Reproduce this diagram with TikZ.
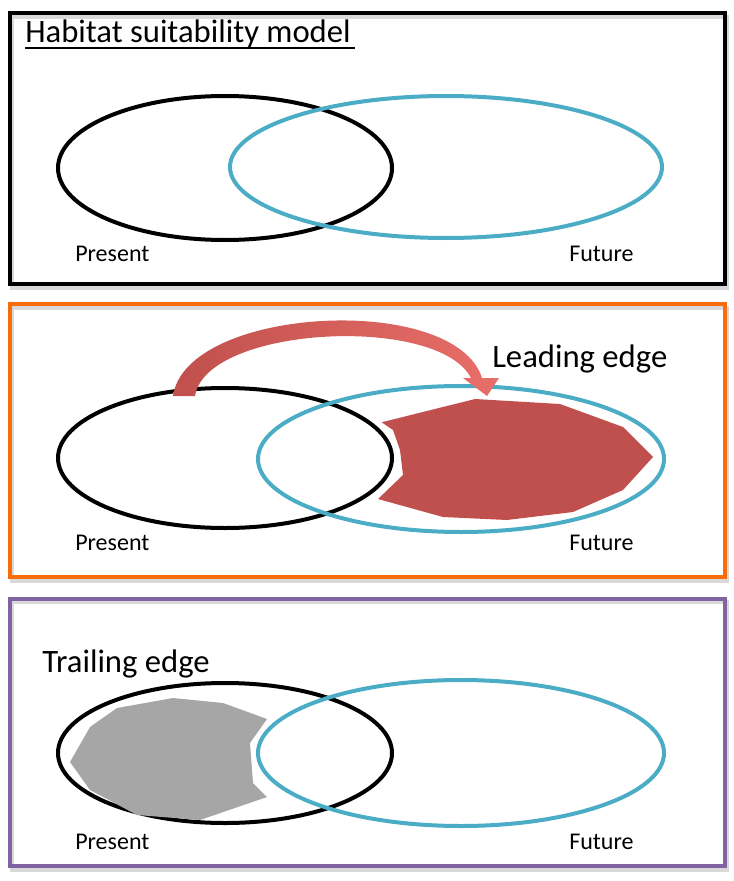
\documentclass[tikz,border=0pt]{standalone}
\usepackage{fontspec}
\setmainfont{Carlito}
\usetikzlibrary{positioning}
\definecolor{futureblue}{RGB}{75,172,198}
\definecolor{leadred}{RGB}{192,80,77}
\definecolor{leadlight}{RGB}{232,110,105}
\definecolor{trailgray}{RGB}{166,166,166}
\definecolor{boxorange}{RGB}{250,108,10}
\definecolor{boxpurple}{RGB}{128,100,162}

\begin{document}
\begin{tikzpicture}[x=0.75pt, y=-0.75pt,
    % Styles
    panel/.style={% For the three frames
        line width=3pt,
        },
    shadow/.style={% Grey shadow behind the frames
        line width=3pt,
        draw=black!15,
        },
    present/.style={% Present range
        draw=black,
        line width=3pt,
        },
    future/.style={% Future range
        draw=futureblue,
        line width=3pt,
        },
    label/.style={% Small labels below the ellipses
        anchor=base west,
        inner sep=0pt,
        font=\fontsize{18}{20}\selectfont,
        },
    title/.style={% Big labels
        anchor=base west,
        inner sep=0pt,
        font=\fontsize{24.5}{28}\selectfont,
        },
    ]

    \useasboundingbox (0,0) rectangle (733,881);

    % Draw the frames:
    \draw [shadow] (12,17) rectangle (727,288);
    \draw [shadow] (12,308) rectangle (727,581);
    \draw [shadow] (12,602) rectangle (727,870);
    \draw [panel, draw=black] (9.5,13.5) rectangle (724.5,284);
    \draw [panel, draw=boxorange] (9.5,304) rectangle (724.5,577);
    \draw [panel, draw=boxpurple] (9.5,598.5) rectangle (724.5,866);

    %top panel
    \draw [present] (225,168) ellipse [x radius=167, y radius=72];
    \draw [future] (446,167) ellipse [x radius=216, y radius=71];
    \node [title] (model) at (25,43) {Habitat suitability model};
    \draw [line width=2pt] (model.base west) ++(0,5) -- ++(330,0);
    \node [label] (present1) at (75,261) {Present};
    \node [label] (future1) at (569,261) {Future};

    %middle panel
    \draw [present] (225,458) ellipse [x radius=167, y radius=70];
    \draw [future] (461,459) ellipse [x radius=203, y radius=73];
    \fill [leadred] (381.7,422.3) -- (475,399) -- (560,404) -- (623,427)
        -- (653,457) -- (623,490) -- (573,512) -- (507,520) -- (443,517)
        -- (378,499) -- (403,475) -- (400,450) -- (393,430) -- cycle;
    \shade [left color=leadred, right color=leadlight]
        (173,396) .. controls (186,306) and (455,292) .. (482,378)
        -- (499,378) -- (487,396) -- (463,378) -- (471,378)
        .. controls (438,314) and (206,326) .. (195,396) -- cycle;
    \node [title] (leading) at (492,367) {Leading edge};
    \node [label] (present2) at (75,550) {Present};
    \node [label] (future2) at (569,550) {Future};

    %bottom panel
    \draw [present] (225,753) ellipse [x radius=167, y radius=70];
    \draw [future] (461,753) ellipse [x radius=203, y radius=73];
    \fill [trailgray] (70,762) -- (90,727) -- (117,708) -- (173,698)
        -- (223,703) -- (267,719) -- (250,743) -- (253,783) -- (267,797)
        -- (200,820) -- (137,815) -- (90,790) -- cycle;
    \node [title] (trailing) at (42,672) {Trailing edge};
    \node [label] (present3) at (75,849) {Present};
    \node [label] (future3) at (569,849) {Future};

\end{tikzpicture}
\end{document}
